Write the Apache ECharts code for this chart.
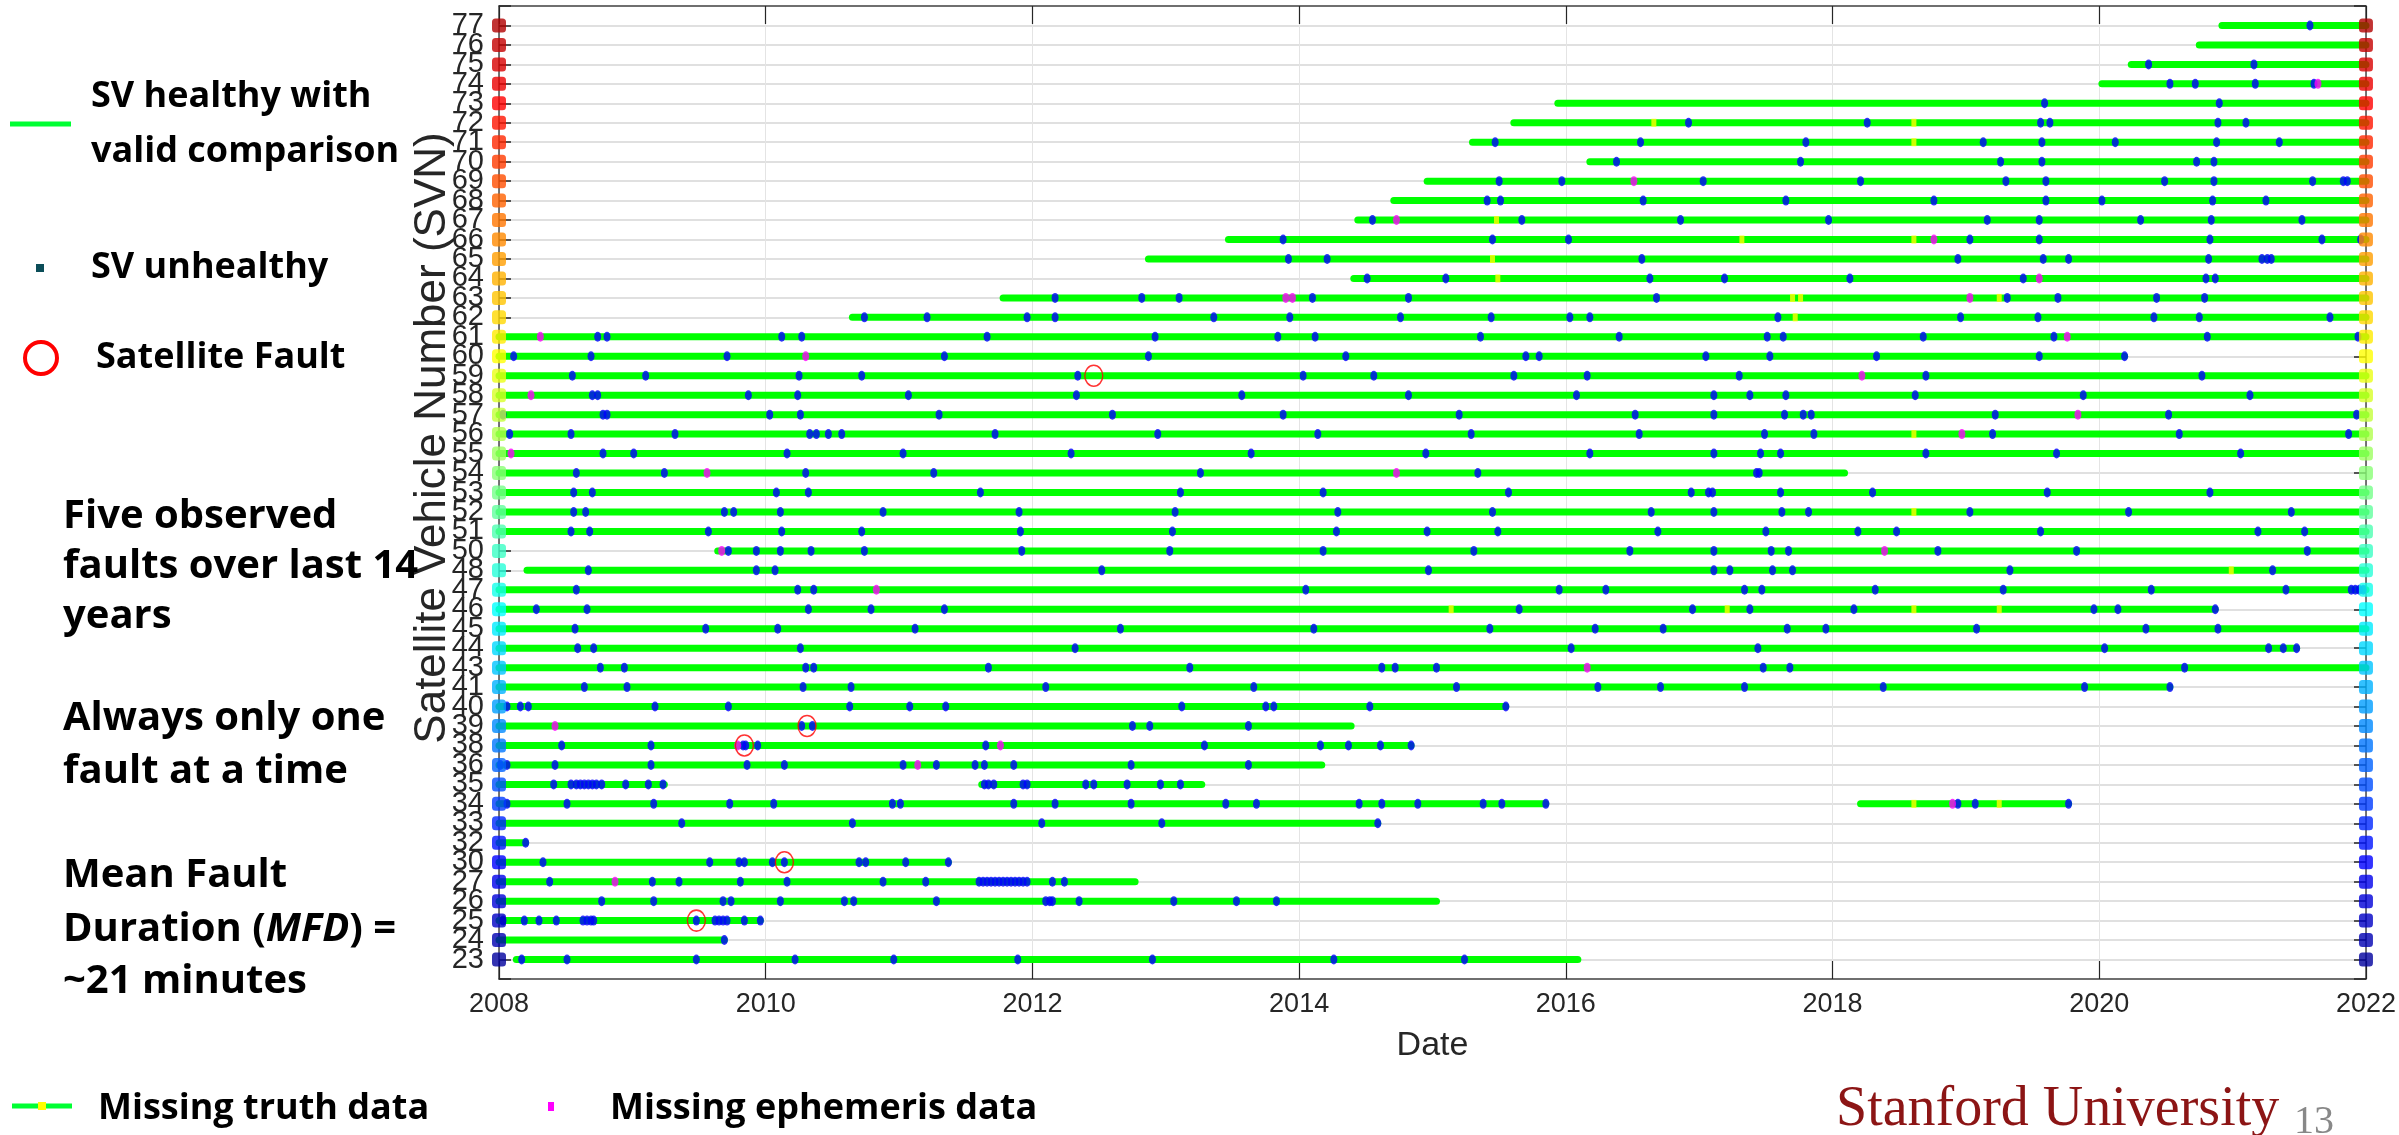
<!DOCTYPE html>
<html>
<head>
<meta charset="utf-8">
<script src="https://cdn.jsdelivr.net/npm/echarts@6/dist/echarts.min.js"></script>
<style>
  html, body { margin: 0; padding: 0; background: #ffffff; }
  #chart { width: 2399px; height: 1135px; }
</style>
</head>
<body>
<div id="chart"></div>
<script>
// ---------------- DATA ----------------
const svnLabels = [23,24,25,26,27,30,32,33,34,35,36,38,39,40,41,43,44,45,46,47,48,50,51,52,53,54,55,56,57,58,59,60,61,62,63,64,65,66,67,68,69,70,71,72,73,74,75,76,77];

const yearMin = 2008;
const yearMax = 2022;
const yearStep = 2;

// [SVN, start, end] of "healthy with valid comparison" periods
const healthySegments = [
  [77, 2020.92, 2022], [76, 2020.75, 2022], [75, 2020.24, 2022], [74, 2020.02, 2022],
  [73, 2015.94, 2022], [72, 2015.61, 2022], [71, 2015.30, 2022], [70, 2016.18, 2022],
  [69, 2014.96, 2022], [68, 2014.71, 2022], [67, 2014.44, 2022], [66, 2013.47, 2022],
  [65, 2012.87, 2022], [64, 2014.41, 2022], [63, 2011.78, 2022], [62, 2010.65, 2022],
  [61, 2008, 2022], [60, 2008, 2020.19], [59, 2008, 2022], [58, 2008, 2022],
  [57, 2008, 2022], [56, 2008, 2022], [55, 2008, 2022], [54, 2008, 2018.09],
  [53, 2008, 2022], [52, 2008, 2022], [51, 2008, 2022], [50, 2009.64, 2022],
  [48, 2008.21, 2022], [47, 2008, 2022], [46, 2008, 2020.87], [45, 2008, 2022],
  [44, 2008, 2021.48], [43, 2008, 2022], [41, 2008, 2020.53], [40, 2008, 2015.55],
  [39, 2008, 2014.39], [38, 2008, 2014.84], [36, 2008, 2014.17],
  [35, 2008, 2009.24], [35, 2011.62, 2013.27],
  [34, 2008, 2015.85], [34, 2018.21, 2019.77],
  [33, 2008, 2014.59], [32, 2008, 2008.20], [30, 2008, 2011.37], [27, 2008, 2012.77],
  [26, 2008, 2015.03], [25, 2008, 2009.96], [24, 2008, 2009.69], [23, 2008.13, 2016.09]
];

// [SVN, [dates when SV unhealthy]]
const unhealthyDates = [
  [77, [2021.58]],
  [75, [2020.37, 2021.16]],
  [74, [2020.53, 2020.72, 2021.17, 2021.61]],
  [73, [2019.59, 2020.90]],
  [72, [2016.92, 2018.26, 2019.56, 2019.63, 2020.89, 2021.10]],
  [71, [2015.47, 2016.56, 2017.80, 2019.13, 2019.57, 2020.12, 2020.88, 2021.35]],
  [70, [2016.38, 2017.76, 2019.26, 2019.57, 2020.73, 2020.86]],
  [69, [2015.50, 2015.97, 2017.03, 2018.21, 2019.30, 2019.60, 2020.49, 2020.86, 2021.60, 2021.83, 2021.86]],
  [68, [2015.41, 2015.51, 2016.58, 2017.65, 2018.76, 2019.60, 2020.02, 2020.85, 2021.25]],
  [67, [2014.55, 2015.67, 2016.86, 2017.97, 2019.16, 2019.55, 2020.31, 2020.84, 2021.52]],
  [66, [2013.88, 2015.45, 2016.02, 2019.03, 2019.55, 2020.83, 2021.67, 2021.96]],
  [65, [2013.92, 2014.21, 2016.57, 2018.94, 2019.58, 2019.77, 2020.82, 2021.22, 2021.26, 2021.29]],
  [64, [2014.51, 2015.10, 2016.63, 2017.19, 2018.13, 2019.43, 2020.80, 2020.87]],
  [63, [2012.17, 2012.82, 2013.10, 2014.10, 2014.82, 2016.68, 2019.31, 2019.69, 2020.43, 2020.79]],
  [62, [2010.74, 2011.21, 2011.96, 2012.17, 2013.36, 2013.93, 2014.76, 2015.44, 2016.03, 2016.18, 2017.59, 2018.96, 2019.54, 2020.41, 2020.75, 2021.73]],
  [61, [2008.74, 2008.81, 2010.12, 2010.27, 2011.66, 2012.92, 2013.84, 2014.12, 2015.36, 2016.40, 2017.51, 2017.63, 2018.68, 2019.66, 2020.81, 2021.94]],
  [60, [2008.11, 2008.69, 2009.71, 2011.34, 2012.87, 2014.35, 2015.70, 2015.80, 2017.05, 2017.53, 2018.33, 2019.55, 2020.19]],
  [59, [2008.55, 2009.10, 2010.25, 2010.72, 2012.34, 2014.03, 2014.56, 2015.61, 2016.16, 2017.30, 2018.70, 2020.77]],
  [58, [2008.70, 2008.74, 2009.87, 2010.24, 2011.07, 2012.33, 2013.57, 2014.82, 2016.08, 2017.11, 2017.38, 2017.65, 2018.62, 2019.88, 2021.13]],
  [57, [2008.03, 2008.78, 2008.81, 2010.03, 2010.26, 2011.30, 2012.60, 2013.88, 2015.20, 2016.52, 2017.11, 2017.64, 2017.78, 2017.84, 2019.22, 2020.52, 2021.93]],
  [56, [2008.08, 2008.54, 2009.32, 2010.33, 2010.38, 2010.47, 2010.57, 2011.72, 2012.94, 2014.14, 2015.29, 2016.55, 2017.49, 2017.86, 2019.20, 2020.60, 2021.87]],
  [55, [2008.78, 2009.01, 2010.16, 2011.03, 2012.29, 2013.64, 2014.95, 2016.18, 2017.11, 2017.46, 2017.61, 2018.70, 2019.68, 2021.06]],
  [54, [2008.58, 2009.24, 2010.30, 2011.26, 2013.26, 2015.34, 2017.43, 2017.45]],
  [53, [2008.56, 2008.70, 2010.08, 2010.32, 2011.61, 2013.11, 2014.18, 2015.57, 2016.94, 2017.07, 2017.10, 2017.61, 2018.30, 2019.61, 2020.83]],
  [52, [2008.56, 2008.65, 2009.69, 2009.76, 2010.11, 2010.88, 2011.90, 2013.07, 2014.29, 2015.45, 2016.64, 2017.11, 2017.62, 2017.82, 2019.03, 2020.22, 2021.44]],
  [51, [2008.54, 2008.68, 2009.57, 2010.12, 2010.72, 2011.91, 2013.05, 2014.28, 2014.96, 2015.49, 2016.69, 2017.50, 2018.19, 2018.48, 2019.56, 2021.19, 2021.54]],
  [50, [2009.72, 2009.93, 2010.11, 2010.34, 2010.74, 2011.92, 2013.03, 2014.18, 2015.31, 2016.48, 2017.11, 2017.54, 2017.67, 2018.79, 2019.83, 2021.56]],
  [48, [2008.67, 2009.93, 2010.07, 2012.52, 2014.97, 2017.11, 2017.23, 2017.55, 2017.70, 2019.33, 2021.30]],
  [47, [2008.58, 2010.24, 2010.36, 2014.05, 2015.95, 2016.30, 2017.34, 2017.47, 2018.32, 2019.28, 2020.39, 2021.40, 2021.89, 2021.92, 2021.95, 2021.98]],
  [46, [2008.28, 2008.66, 2010.32, 2010.79, 2011.34, 2015.65, 2016.95, 2017.38, 2018.16, 2019.96, 2020.14, 2020.87]],
  [45, [2008.57, 2009.55, 2010.09, 2011.12, 2012.66, 2014.11, 2015.43, 2016.22, 2016.73, 2017.66, 2017.95, 2019.08, 2020.35, 2020.89]],
  [44, [2008.59, 2008.71, 2010.26, 2012.32, 2016.04, 2017.44, 2020.04, 2021.27, 2021.38, 2021.48]],
  [43, [2008.76, 2008.94, 2010.30, 2010.36, 2011.67, 2013.18, 2014.62, 2014.72, 2015.03, 2017.48, 2017.68, 2020.64]],
  [41, [2008.64, 2008.96, 2010.28, 2010.64, 2012.10, 2013.66, 2015.18, 2016.24, 2016.71, 2017.34, 2018.38, 2019.89, 2020.53]],
  [40, [2008.06, 2008.16, 2008.22, 2009.17, 2009.72, 2010.63, 2011.08, 2011.35, 2013.12, 2013.75, 2013.81, 2014.53, 2015.55]],
  [39, [2010.27, 2010.35, 2012.75, 2012.88, 2013.62]],
  [38, [2008.47, 2009.14, 2009.83, 2009.85, 2009.94, 2011.65, 2013.29, 2014.16, 2014.37, 2014.61, 2014.84]],
  [36, [2008.01, 2008.06, 2008.42, 2009.14, 2009.86, 2010.14, 2011.03, 2011.28, 2011.57, 2011.64, 2011.86, 2012.74, 2013.62]],
  [35, [2008.41, 2008.54, 2008.58, 2008.61, 2008.64, 2008.67, 2008.70, 2008.73, 2008.77, 2008.95, 2009.12, 2009.23,
        2011.64, 2011.67, 2011.71, 2011.93, 2011.96, 2012.40, 2012.46, 2012.71, 2012.96, 2013.11]],
  [34, [2008.06, 2008.51, 2009.16, 2009.73, 2010.06, 2010.95, 2011.01, 2011.86, 2012.17, 2012.74, 2013.45, 2013.68,
        2014.45, 2014.62, 2014.89, 2015.38, 2015.52, 2015.85, 2018.94, 2019.07, 2019.77]],
  [33, [2009.37, 2010.65, 2012.07, 2012.97, 2014.59]],
  [32, [2008.20]],
  [30, [2008.33, 2009.58, 2009.80, 2009.84, 2010.05, 2010.14, 2010.70, 2010.75, 2011.05, 2011.37]],
  [27, [2008.38, 2009.15, 2009.35, 2009.81, 2010.16, 2010.88, 2011.20, 2011.60, 2011.63, 2011.66, 2011.69, 2011.72,
        2011.75, 2011.78, 2011.81, 2011.84, 2011.87, 2011.90, 2011.93, 2011.96, 2012.15, 2012.24]],
  [26, [2008.77, 2009.16, 2009.68, 2009.74, 2010.11, 2010.59, 2010.66, 2011.28, 2012.10, 2012.13, 2012.15, 2012.35,
        2013.06, 2013.53, 2013.83]],
  [25, [2008.03, 2008.19, 2008.30, 2008.43, 2008.63, 2008.66, 2008.69, 2008.71, 2009.48, 2009.62, 2009.65, 2009.68,
        2009.71, 2009.84, 2009.96]],
  [24, [2009.69]],
  [23, [2008.17, 2008.51, 2009.48, 2010.22, 2010.96, 2011.89, 2012.90, 2014.26, 2015.24]]
];

// [SVN, date] missing ephemeris data
const missingEphemeris = [
  [74, 2021.64], [69, 2016.51], [67, 2014.73], [66, 2018.76], [64, 2019.55],
  [63, 2013.90], [63, 2013.95], [63, 2019.03], [61, 2008.31], [61, 2019.76],
  [60, 2010.30], [59, 2018.22], [58, 2008.24], [57, 2019.84], [56, 2018.97],
  [55, 2008.09], [54, 2009.56], [54, 2014.73], [50, 2009.67], [50, 2018.39],
  [47, 2010.83], [43, 2016.16], [39, 2008.42], [38, 2009.79], [38, 2011.76],
  [36, 2011.14], [34, 2018.90], [27, 2008.87]
];

// [SVN, date] missing truth data
const missingTruth = [
  [72, 2016.66], [72, 2018.61], [71, 2018.61], [67, 2015.48], [66, 2017.32],
  [66, 2018.61], [65, 2015.45], [64, 2015.49], [63, 2017.70], [63, 2017.76],
  [63, 2019.25], [62, 2017.72], [56, 2018.61], [52, 2018.61], [48, 2020.99],
  [46, 2015.14], [46, 2017.21], [46, 2018.61], [46, 2019.25], [34, 2018.61], [34, 2019.25]
];

// [SVN, date] observed satellite faults
const satelliteFaults = [[59, 2012.46], [39, 2010.31], [38, 2009.84], [30, 2010.14], [25, 2009.48]];

// ---------------- BUILD ----------------
function rowOf(svn) { return svnLabels.indexOf(svn) + 1; }

function jet(m) {
  const n = Math.ceil(m / 4);
  const u = [];
  for (let i = 1; i <= n; i++) u.push(i / n);
  for (let i = 0; i < n - 1; i++) u.push(1);
  for (let i = n; i >= 1; i--) u.push(i / n);
  const g0 = Math.ceil(n / 2) - (m % 4 === 1 ? 1 : 0);
  const J = Array.from({ length: m }, () => [0, 0, 0]);
  for (let k = 0; k < u.length; k++) {
    const g = g0 + k + 1, r = g + n, b = g - n;
    if (r >= 1 && r <= m) J[r - 1][0] = u[k];
    if (g >= 1 && g <= m) J[g - 1][1] = u[k];
    if (b >= 1 && b <= m) J[b - 1][2] = u[k];
  }
  return J.map(c => 'rgb(' + c.map(v => Math.round(v * 255)).join(',') + ')');
}
const rowColors = jet(svnLabels.length);

const segData = healthySegments.map(s => [rowOf(s[0]), s[1], s[2]]);
const blueData = [];
unhealthyDates.forEach(([svn, dates]) => dates.forEach(d => blueData.push([d, rowOf(svn)])));
const magentaData = missingEphemeris.map(([svn, d]) => [d, rowOf(svn)]);
const yellowData = missingTruth.map(([svn, d]) => [d, rowOf(svn)]);
const faultData = satelliteFaults.map(([svn, d]) => [d, rowOf(svn)]);
const squareData = [];
svnLabels.forEach((svn, i) => {
  squareData.push({ value: [yearMin, i + 1], itemStyle: { color: rowColors[i] } });
  squareData.push({ value: [yearMax, i + 1], itemStyle: { color: rowColors[i] } });
});

const axisColor = '#262626';
const frameColor = '#4a4a4a';
const textFont = '"Open Sans", "Noto Sans", sans-serif';
const axisFont = '"Liberation Sans", Arial, sans-serif';

const chart = echarts.init(document.getElementById('chart'), null, { renderer: 'canvas' });

const slideText = (x, y, text, size) => ({
  type: 'text', x: x, y: y,
  style: { text: text, font: 'bold ' + size + 'px ' + textFont, fill: '#000000', align: 'left', verticalAlign: 'middle' }
});

const option = {
  backgroundColor: '#ffffff',
  animation: false,
  grid: { left: 499, right: 29, top: 6, bottom: 156, containLabel: false },
  xAxis: [
    {
      type: 'value', min: yearMin, max: yearMax, interval: yearStep, position: 'bottom',
      axisLine: { show: true, onZero: false, lineStyle: { color: frameColor, width: 1.5 } },
      axisTick: { show: true, inside: true, length: 18, lineStyle: { color: axisColor, width: 1.2 } },
      axisLabel: { fontSize: 27, color: axisColor, margin: 12, fontFamily: axisFont, formatter: v => String(v) },
      splitLine: { show: true, lineStyle: { color: '#e4e4e4', width: 1 } },
      name: 'Date', nameLocation: 'middle', nameGap: 50,
      nameTextStyle: { fontSize: 34, color: axisColor, fontFamily: axisFont }
    },
    {
      type: 'value', min: yearMin, max: yearMax, interval: yearStep, position: 'top',
      axisLine: { show: true, onZero: false, lineStyle: { color: frameColor, width: 1.5 } },
      axisTick: { show: true, inside: true, length: 18, lineStyle: { color: axisColor, width: 1.2 } },
      axisLabel: { show: false }, splitLine: { show: false }
    }
  ],
  yAxis: [
    {
      type: 'value', min: 0, max: svnLabels.length + 1, interval: 1, position: 'left',
      axisLine: { show: true, onZero: false, lineStyle: { color: frameColor, width: 1.5 } },
      axisTick: { show: true, inside: true, length: 12, lineStyle: { color: axisColor, width: 1.5 } },
      axisLabel: {
        fontSize: 29, color: axisColor, margin: 15, fontFamily: axisFont,
        formatter: v => (v >= 1 && v <= svnLabels.length) ? String(svnLabels[v - 1]) : ''
      },
      splitLine: { show: true, lineStyle: { color: '#e0e0e0', width: 2 } }
    },
    {
      type: 'value', min: 0, max: svnLabels.length + 1, interval: 1, position: 'right',
      axisLine: { show: true, onZero: false, lineStyle: { color: frameColor, width: 1.5 } },
      axisTick: { show: true, inside: true, length: 12, lineStyle: { color: axisColor, width: 1.5 } },
      axisLabel: { show: false }, splitLine: { show: false }
    }
  ],
  series: [
    {
      name: 'SV healthy with valid comparison', type: 'custom', xAxisIndex: 0, yAxisIndex: 0,
      data: segData, encode: { x: [1, 2], y: 0 }, clip: false,
      renderItem: (params, api) => {
        const p1 = api.coord([api.value(1), api.value(0)]);
        const p2 = api.coord([api.value(2), api.value(0)]);
        return {
          type: 'line',
          shape: { x1: p1[0], y1: p1[1], x2: p2[0], y2: p2[1] },
          style: { stroke: '#00ff00', lineWidth: 7, lineCap: 'round' }
        };
      },
      z: 2
    },
    {
      name: 'Missing truth data', type: 'scatter', data: yellowData, symbol: 'rect', symbolSize: [5, 8],
      itemStyle: { color: '#ffff00' }, z: 3
    },
    {
      name: 'SV unhealthy', type: 'scatter', data: blueData, symbol: 'circle', symbolSize: [7, 10],
      itemStyle: { color: '#0000ff' }, z: 4
    },
    {
      name: 'Missing ephemeris data', type: 'scatter', data: magentaData, symbol: 'circle', symbolSize: [7, 10],
      itemStyle: { color: '#ff00ff' }, z: 5
    },
    {
      name: 'Satellite Fault', type: 'scatter', data: faultData, symbol: 'circle', symbolSize: [18, 21],
      itemStyle: { color: 'rgba(0,0,0,0)', borderColor: '#ff0000', borderWidth: 1.5 }, z: 6
    },
    {
      name: 'SVN colour', type: 'scatter', data: squareData, symbol: 'roundRect', symbolSize: 14,
      clip: false, z: 7
    }
  ],
  graphic: [
    // y-axis title
    {
      type: 'text', x: 433, y: 438, rotation: Math.PI / 2,
      style: { text: 'Satellite Vehicle Number (SVN)', font: '44px ' + axisFont,
               fill: axisColor, align: 'center', verticalAlign: 'middle' }
    },
    // legend: healthy line
    { type: 'line', shape: { x1: 10, y1: 124, x2: 71, y2: 124 }, style: { stroke: '#00ff33', lineWidth: 5 } },
    slideText(91, 97, 'SV healthy with', 36),
    slideText(91, 152, 'valid comparison', 36),
    // legend: unhealthy marker
    { type: 'rect', shape: { x: 36, y: 264, width: 8, height: 8 }, style: { fill: '#0b4d58' } },
    slideText(91, 268, 'SV unhealthy', 36),
    // legend: fault circle
    { type: 'circle', shape: { cx: 41, cy: 358, r: 16 }, style: { fill: 'none', stroke: '#ff0000', lineWidth: 4 } },
    slideText(96, 358, 'Satellite Fault', 36),
    // paragraphs
    slideText(63, 517, 'Five observed', 40),
    slideText(63, 567, 'faults over last 14', 40),
    slideText(63, 617, 'years', 40),
    slideText(63, 719, 'Always only one', 40),
    slideText(63, 772, 'fault at a time', 40),
    slideText(63, 876, 'Mean Fault', 40),
    {
      type: 'text', x: 63, y: 930,
      style: {
        text: 'Duration ({i|MFD}) =', font: 'bold 40px ' + textFont, fill: '#000000', align: 'left', verticalAlign: 'middle',
        rich: { i: { fontStyle: 'italic', fontWeight: 'bold', fontSize: 40, fontFamily: textFont, fill: '#000000' } }
      }
    },
    slideText(63, 982, '~21 minutes', 40),
    // bottom legend
    { type: 'line', shape: { x1: 12, y1: 1106, x2: 72, y2: 1106 }, style: { stroke: '#00ff33', lineWidth: 5 } },
    { type: 'rect', shape: { x: 38, y: 1102, width: 8, height: 8 }, style: { fill: '#ffff00' } },
    slideText(98, 1109, 'Missing truth data', 36),
    { type: 'rect', shape: { x: 548, y: 1102, width: 6, height: 9 }, style: { fill: '#ff00ff' } },
    slideText(610, 1109, 'Missing ephemeris data', 36),
    // footer
    {
      type: 'text', x: 1836, y: 1110,
      style: { text: 'Stanford University', font: '56px "Liberation Serif", "DejaVu Serif", serif',
               fill: '#8c1515', align: 'left', verticalAlign: 'middle' }
    },
    {
      type: 'text', x: 2294, y: 1122,
      style: { text: '13', font: '40px "Liberation Serif", serif', fill: '#888888', align: 'left', verticalAlign: 'middle' }
    }
  ]
};

chart.setOption(option);
</script>
</body>
</html>
